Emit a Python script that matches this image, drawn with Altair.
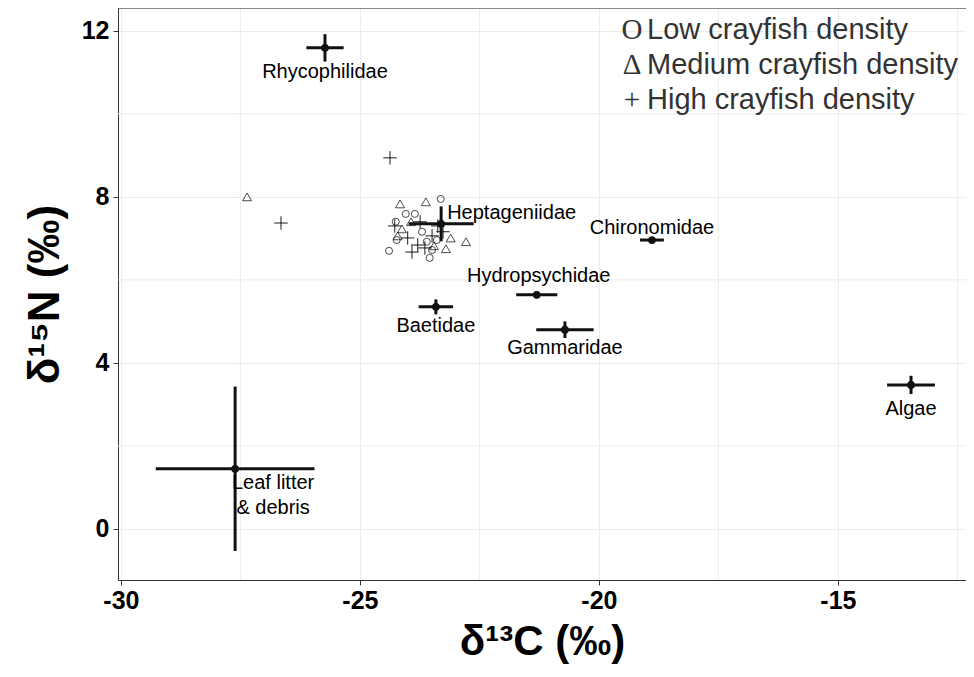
import altair as alt
import pandas as pd

# Taxon / source means and error bars
taxa = ["Rhycophilidae", "Heptageniidae", "Chironomidae", "Hydropsychidae",
        "Baetidae", "Gammaridae", "Algae", "Leaf litter & debris"]
mean_c = [-25.73, -23.30, -18.89, -21.30, -23.41, -20.71, -13.47, -27.61]
mean_n = [11.59, 7.35, 6.96, 5.64, 5.35, 4.80, 3.47, 1.45]
sd_c = [0.39, 0.68, 0.25, 0.43, 0.36, 0.60, 0.50, 1.66]
sd_n = [0.33, 0.42, 0.05, 0.08, 0.18, 0.20, 0.22, 1.98]

# Individual crayfish values by density
low_c = [-23.31, -24.04, -23.85, -24.39, -24.23, -23.54, -23.49, -23.70, -24.25, -23.39, -23.60]
low_n = [7.95, 7.59, 7.59, 6.70, 6.96, 6.53, 6.72, 7.16, 7.40, 6.96, 6.92]
med_c = [-27.36, -24.16, -23.62, -23.10, -22.78, -23.20, -24.12, -23.93, -24.21, -23.45]
med_n = [8.00, 7.83, 7.88, 7.01, 6.92, 6.75, 7.23, 7.40, 7.06, 6.82]
high_c = [-26.65, -24.37, -24.27, -24.00, -23.79, -23.64, -23.49, -23.37, -23.26, -23.74, -23.91]
high_n = [7.37, 8.94, 7.30, 7.01, 6.84, 6.77, 7.06, 7.30, 7.16, 7.40, 6.67]

x_ticks = [-30, -25, -20, -15]
y_ticks = [0, 4, 8, 12]
minor_c = [-27.5, -22.5, -17.5, -12.5]
minor_n = [2, 6, 10]

legend_symbols = ["O", "Δ", "+"]
legend_labels = ["Low crayfish density", "Medium crayfish density", "High crayfish density"]

means = pd.DataFrame({"taxon": taxa, "c": mean_c, "n": mean_n, "sc": sd_c, "sn": sd_n})
means["c_lo"] = means.c - means.sc
means["c_hi"] = means.c + means.sc
means["n_lo"] = means.n - means.sn
means["n_hi"] = means.n + means.sn
means["label"] = means.taxon.replace({"Leaf litter & debris": "Leaf litter\n& debris"})

low = pd.DataFrame({"c": low_c, "n": low_n})
med = pd.DataFrame({"c": med_c, "n": med_n})
high = pd.DataFrame({"c": high_c, "n": high_n})

FONT = "Liberation Sans"
W, H = 848, 572

xscale = alt.Scale(domain=[-30.06, -12.32], nice=False, zero=False)
yscale = alt.Scale(domain=[-1.23, 12.55], nice=False, zero=False)

xaxis = alt.Axis(values=x_ticks, labelExpr="toString(datum.value)", title="δ¹³C (‰)",
                 labelFont=FONT, labelFontWeight="bold", labelFontSize=25, labelColor="black",
                 tickColor="#333333", tickSize=5, domain=True, domainColor="#333333",
                 gridColor="#ebebeb",
                 titleFont=FONT, titleFontSize=42, titleFontWeight="bold", titleColor="black",
                 titlePadding=8, labelPadding=3)
yaxis = alt.Axis(values=y_ticks, labelExpr="toString(datum.value)", title="δ¹⁵N (‰)",
                 labelFont=FONT, labelFontWeight="bold", labelFontSize=25, labelColor="black",
                 tickColor="#333333", tickSize=5, domain=True, domainColor="#333333",
                 gridColor="#ebebeb",
                 titleFont=FONT, titleFontSize=44, titleFontWeight="bold", titleColor="black",
                 titlePadding=14, labelPadding=4)

base_x = alt.X("c:Q", scale=xscale, axis=xaxis)
base_y = alt.Y("n:Q", scale=yscale, axis=yaxis)

grid_v = alt.Chart(pd.DataFrame({"g": minor_c})).mark_rule(color="#ebebeb", strokeWidth=1).encode(
    x=alt.X("g:Q", scale=xscale))
grid_h = alt.Chart(pd.DataFrame({"g": minor_n})).mark_rule(color="#ebebeb", strokeWidth=1).encode(
    y=alt.Y("g:Q", scale=yscale))
top_border = alt.Chart(pd.DataFrame({"g": [12.55]})).mark_rule(color="#333333", strokeWidth=1).encode(
    y=alt.Y("g:Q", scale=yscale))

pts_low = alt.Chart(low).mark_point(shape="circle", filled=False, size=50, color="black",
                                   strokeWidth=0.7, opacity=1).encode(x=base_x, y=base_y)
pts_med = alt.Chart(med).mark_point(shape="triangle-up", filled=False, size=80, color="black",
                                   strokeWidth=0.7, opacity=1).encode(x=base_x, y=base_y)
pts_high = alt.Chart(high).mark_point(shape="M-1,0L1,0M0,-1L0,1", filled=False, size=180,
                                     color="black", strokeWidth=0.9, opacity=1).encode(x=base_x, y=base_y)

bars_h = alt.Chart(means).mark_rule(color="#111111", strokeWidth=3).encode(
    x=alt.X("c_lo:Q", scale=xscale, axis=xaxis), x2="c_hi:Q", y=alt.Y("n:Q", scale=yscale, axis=yaxis))
bars_v = alt.Chart(means).mark_rule(color="#111111", strokeWidth=3).encode(
    y=alt.Y("n_lo:Q", scale=yscale, axis=yaxis), y2="n_hi:Q", x=alt.X("c:Q", scale=xscale, axis=xaxis))
mean_pts = alt.Chart(means).mark_circle(size=60, color="#111111", opacity=1).encode(x=base_x, y=base_y)

label_offsets = {
    "Rhycophilidae": (0, 24, "center"),
    "Heptageniidae": (6, -11, "left"),
    "Chironomidae": (0, -12, "center"),
    "Hydropsychidae": (2, -19, "center"),
    "Baetidae": (0, 19, "center"),
    "Gammaridae": (0, 18, "center"),
    "Algae": (0, 24, "center"),
    "Leaf litter & debris": (38, 4, "center"),
}
label_layers = []
for name, (dx, dy, al) in label_offsets.items():
    label_layers.append(
        alt.Chart(means).transform_filter(alt.datum.taxon == name).mark_text(
            font=FONT, fontSize=20, color="black", dx=dx, dy=dy, align=al,
            baseline="middle" if name != "Leaf litter & debris" else "top",
            lineBreak="\n", lineHeight=25).encode(x=base_x, y=base_y, text="label:N"))

legend_layers = []
leg_df = pd.DataFrame({"sym": legend_symbols, "lab": legend_labels})
for i in range(3):
    row = leg_df.iloc[[i]]
    yy = 22 + 35 * i
    legend_layers.append(alt.Chart(row).mark_text(
        font="Liberation Serif", fontSize=29, color="#333333", align="center", baseline="middle").encode(
        x=alt.value(514), y=alt.value(yy), text="sym:N"))
    legend_layers.append(alt.Chart(row).mark_text(
        font=FONT, fontSize=29, color="#333333", align="left", baseline="middle").encode(
        x=alt.value(529), y=alt.value(yy), text="lab:N"))

chart = alt.layer(grid_v, grid_h, top_border, pts_low, pts_med, pts_high, bars_h, bars_v, mean_pts,
                  *label_layers, *legend_layers).properties(
    width=W, height=H,
    padding={"left": 110, "top": 0, "right": 0, "bottom": 86},
    autosize=alt.AutoSizeParams(type="none"),
).configure_view(stroke="transparent").configure(background="white")

chart.save("out.html", embed_options={"renderer": "svg", "actions": False})
